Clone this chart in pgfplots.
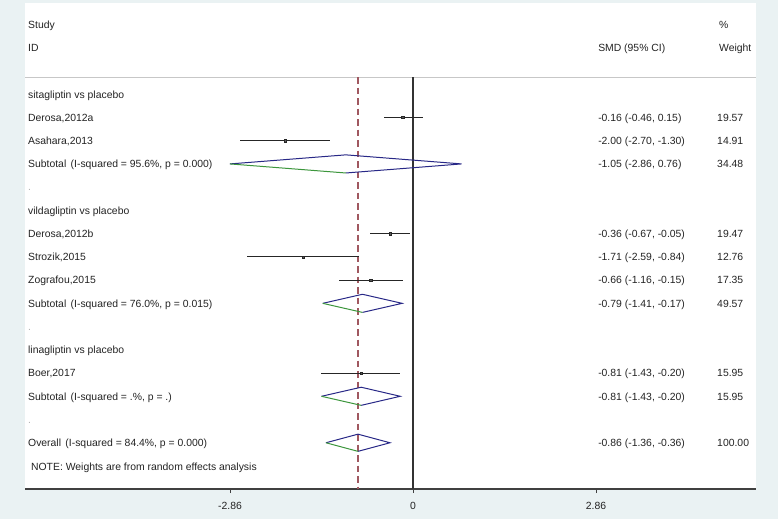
\documentclass[border=0pt]{standalone}
\usepackage{pgfplots}
\pgfplotsset{compat=1.18}
\usepackage{pgfplotstable}
\usepackage{fontspec}
\setmainfont{Liberation Sans}

\definecolor{bgc}{RGB}{234,242,243}
\definecolor{navy}{RGB}{40,40,135}
\definecolor{grn}{RGB}{60,150,60}
\definecolor{refred}{RGB}{160,88,96}
\definecolor{txt}{RGB}{35,35,35}
\newcommand\f{\fontsize{10.4bp}{12bp}\selectfont}
\tikzset{lab/.style={anchor=base west, yshift=-3.8bp, inner sep=0pt, font=\f, text=txt}}

% row  SMD  lower  upper
\pgfplotstableread{
row est lo hi
1 -0.16 -0.46 0.15
2 -2.00 -2.70 -1.30
6 -0.36 -0.67 -0.05
7 -1.71 -2.59 -0.84
8 -0.66 -1.16 -0.15
12 -0.81 -1.43 -0.20
}\studies

\begin{document}
\begin{tikzpicture}
\fill[bgc] (0,0) rectangle (778bp,519bp);
\begin{axis}[
  at={(25bp,30bp)}, anchor=south west,
  scale only axis, width=731bp, height=486bp,
  xmin=-6.0625, xmax=5.359,
  ymin=-3.925, ymax=16.99, y dir=reverse,
  axis background/.style={fill=white},
  axis x line*=bottom, axis y line=none,
  x axis line style={black!75, line width=1.3pt},
  xtick={-2.86,0,2.86}, xticklabels={-2.86,0,2.86},
  tick align=outside, major tick length=4bp,
  tick style={black!75, line width=0.9pt},
  xticklabel style={font=\f, text=txt, inner sep=0pt, anchor=north, yshift=-9.5bp},
  clip=false,
]
% separator under the header
\addplot[black!22, line width=1pt] coordinates {(-6.0625,-0.73) (5.359,-0.73)};
% line of no effect and overall estimate
\addplot[black!80, line width=1.1pt] coordinates {(0,-0.73) (0,16.99)};
\addplot[refred, line width=1.1pt, dash pattern=on 6.5bp off 4bp] coordinates {(-0.86,-0.73) (-0.86,16.99)};

% studies
\addplot[only marks, mark=square*, mark size=1.1bp,
  mark options={fill=black!65, draw=black!85, line width=0.4pt},
  error bars/.cd, x dir=both, x explicit, error mark=none,
  error bar style={black!85, line width=1.1pt}]
  table[x=est, y=row, x error minus expr=\thisrow{est}-\thisrow{lo},
        x error plus expr=\thisrow{hi}-\thisrow{est}] {\studies};

% subtotal and overall diamonds
\addplot[navy, line width=1pt] coordinates {(-2.86,3) (-1.05,2.61) (0.76,3) (-1.05,3.39)};
\addplot[grn, line width=1pt] coordinates {(-2.86,3) (-1.05,3.39)};
\addplot[navy, line width=1pt] coordinates {(-1.41,9) (-0.79,8.61) (-0.17,9) (-0.79,9.39)};
\addplot[grn, line width=1pt] coordinates {(-1.41,9) (-0.79,9.39)};
\addplot[navy, line width=1pt] coordinates {(-1.43,13) (-0.81,12.61) (-0.20,13) (-0.81,13.39)};
\addplot[grn, line width=1pt] coordinates {(-1.43,13) (-0.81,13.39)};
\addplot[navy, line width=1pt] coordinates {(-1.36,15) (-0.86,14.63) (-0.36,15) (-0.86,15.37)};
\addplot[grn, line width=1pt] coordinates {(-1.36,15) (-0.86,15.37)};

% left column
\node[lab] at (axis cs:-6.016,-3) {Study};
\node[lab] at (axis cs:-6.016,-2) {ID};
\node[lab] at (axis cs:-6.016,0) {sitagliptin vs placebo};
\node[lab] at (axis cs:-6.016,1) {Derosa,2012a};
\node[lab] at (axis cs:-6.016,2) {Asahara,2013};
\node[lab] at (axis cs:-6.016,3) {Subtotal\hspace{0.42em}(I-squared = 95.6\%, p = 0.000)};
\node[lab, text=black!30] at (axis cs:-6.016,4) {.};
\node[lab] at (axis cs:-6.016,5) {vildagliptin vs placebo};
\node[lab] at (axis cs:-6.016,6) {Derosa,2012b};
\node[lab] at (axis cs:-6.016,7) {Strozik,2015};
\node[lab] at (axis cs:-6.016,8) {Zografou,2015};
\node[lab] at (axis cs:-6.016,9) {Subtotal\hspace{0.42em}(I-squared = 76.0\%, p = 0.015)};
\node[lab, text=black!30] at (axis cs:-6.016,10) {.};
\node[lab] at (axis cs:-6.016,11) {linagliptin vs placebo};
\node[lab] at (axis cs:-6.016,12) {Boer,2017};
\node[lab] at (axis cs:-6.016,13) {Subtotal\hspace{0.42em}(I-squared = .\%, p = .)};
\node[lab, text=black!30] at (axis cs:-6.016,14) {.};
\node[lab] at (axis cs:-6.016,15) {Overall\hspace{0.42em}(I-squared = 84.4\%, p = 0.000)};
\node[lab] at (axis cs:-5.97,16.05) {NOTE: Weights are from random effects analysis};

% SMD column
\node[lab] at (axis cs:2.891,-2) {SMD (95\% CI)};
\node[lab] at (axis cs:2.891,1) {-0.16 (-0.46, 0.15)};
\node[lab] at (axis cs:2.891,2) {-2.00 (-2.70, -1.30)};
\node[lab] at (axis cs:2.891,3) {-1.05 (-2.86, 0.76)};
\node[lab] at (axis cs:2.891,6) {-0.36 (-0.67, -0.05)};
\node[lab] at (axis cs:2.891,7) {-1.71 (-2.59, -0.84)};
\node[lab] at (axis cs:2.891,8) {-0.66 (-1.16, -0.15)};
\node[lab] at (axis cs:2.891,9) {-0.79 (-1.41, -0.17)};
\node[lab] at (axis cs:2.891,12) {-0.81 (-1.43, -0.20)};
\node[lab] at (axis cs:2.891,13) {-0.81 (-1.43, -0.20)};
\node[lab] at (axis cs:2.891,15) {-0.86 (-1.36, -0.36)};

% weight column
\node[lab] at (axis cs:4.78,-3) {\%};
\node[lab] at (axis cs:4.78,-2) {Weight};
\node[lab] at (axis cs:4.75,1) {19.57};
\node[lab] at (axis cs:4.75,2) {14.91};
\node[lab] at (axis cs:4.75,3) {34.48};
\node[lab] at (axis cs:4.75,6) {19.47};
\node[lab] at (axis cs:4.75,7) {12.76};
\node[lab] at (axis cs:4.75,8) {17.35};
\node[lab] at (axis cs:4.75,9) {49.57};
\node[lab] at (axis cs:4.75,12) {15.95};
\node[lab] at (axis cs:4.75,13) {15.95};
\node[lab] at (axis cs:4.75,15) {100.00};
\end{axis}
\end{tikzpicture}
\end{document}
